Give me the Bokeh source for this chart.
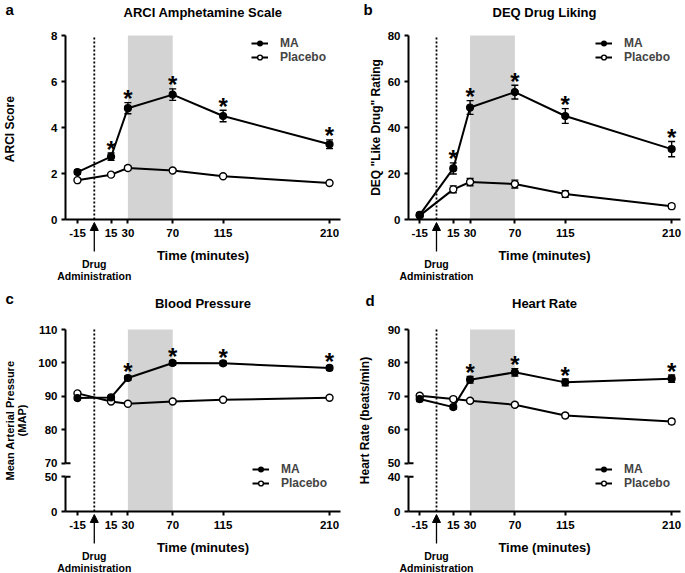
from bokeh.plotting import figure
from bokeh.models import (ColumnDataSource, Whisker, TeeHead, BoxAnnotation, Legend,
                          LegendItem, FixedTicker, Label, Arrow, NormalHead)
from bokeh.layouts import column, row
from bokeh.core.properties import value
from bokeh.embed import file_html
from bokeh.resources import INLINE

# ---------------- data ----------------
time_min = [-15, 15, 30, 70, 115, 210]
x_tick_labels = ["-15", "15", "30", "70", "115", "210"]
drug_time = 0
shade_start, shade_end = 30, 70

arci_ma = [2.06, 2.73, 4.84, 5.43, 4.50, 3.27]
arci_ma_err = [0.10, 0.16, 0.24, 0.25, 0.25, 0.19]
arci_pl = [1.71, 1.95, 2.24, 2.13, 1.88, 1.59]
arci_pl_err = [0.04, 0.05, 0.09, 0.05, 0.04, 0.04]
arci_sig = [False, True, True, True, True, True]
arci_yticks = [0, 2, 4, 6, 8]

deq_ma = [2.0, 22.2, 48.7, 55.4, 45.0, 30.6]
deq_ma_err = [1.0, 2.4, 3.0, 3.0, 3.2, 3.3]
deq_pl = [1.7, 13.1, 16.3, 15.4, 11.1, 5.8]
deq_pl_err = [0.5, 1.5, 1.6, 1.7, 1.4, 1.0]
deq_sig = [False, True, True, True, True, True]
deq_yticks = [0, 20, 40, 60, 80]

map_ma = [89.5, 89.7, 95.5, 100.0, 99.9, 98.5]
map_ma_err = [0.5, 0.5, 0.7, 0.7, 0.6, 0.6]
map_pl = [90.9, 88.5, 87.8, 88.5, 89.0, 89.6]
map_pl_err = [0.4, 0.4, 0.4, 0.4, 0.4, 0.4]
map_sig = [False, False, True, True, True, True]
map_yticks_upper = [70, 80, 90, 100, 110]
map_yticks_lower = [0, 50]

hr_ma = [69.2, 66.8, 75.0, 77.2, 74.2, 75.3]
hr_ma_err = [0.7, 0.6, 1.0, 1.1, 1.0, 1.1]
hr_pl = [70.2, 69.2, 68.7, 67.5, 64.3, 62.5]
hr_pl_err = [0.5, 0.6, 0.5, 0.5, 0.6, 0.7]
hr_sig = [False, False, True, True, True, True]
hr_yticks_upper = [50, 60, 70, 80, 90]
hr_yticks_lower = [0, 40]

FONT = "Liberation Sans"
BREAK_GAP = 4.0      # gap between the two axis segments (in upper-axis units)
LOWER_SPAN = 10.4    # height of the lower axis segment (in upper-axis units)


def build(letter, title, ylabel, ma, ma_err, pl, pl_err, sig, x_data,
          width, height, bl, br, bt, data_h, legend_xy, ylabel_standoff,
          ylabel_size, yticks=None, upper=None, lower=None,
          letter_dx=-60, letter_dy=26, title_dy=23, drug_dy=(44, 56.5)):
    data_w = width - bl - br             # width of the plotted (axis) region
    extra_b = height - bt - data_h       # pixels below the x axis
    if upper is None:
        y_lo, y_hi = yticks[0], yticks[-1]
        tick_vals = list(yticks)
        overrides = {v: str(v) for v in yticks}
    else:
        top_low = upper[0] - BREAK_GAP
        y_lo = top_low - LOWER_SPAN
        y_hi = upper[-1]
        lower_pos = [y_lo + (v - lower[0]) / (lower[-1] - lower[0]) * LOWER_SPAN for v in lower]
        tick_vals = lower_pos + list(upper)
        overrides = {pos: str(v) for pos, v in zip(lower_pos, lower)}
        overrides.update({v: str(v) for v in upper})
    x_lo, x_hi = x_data
    upp = (y_hi - y_lo) / data_h
    xpp = (x_hi - x_lo) / data_w
    y_range = (y_lo - extra_b * upp, y_hi + bt * upp)
    x_range = (x_lo - bl * xpp, x_hi + br * xpp)

    p = figure(width=width, height=height, x_range=x_range, y_range=y_range,
               output_backend="svg", toolbar_location=None, tools="",
               min_border_left=0, min_border_right=0, min_border_top=0,
               min_border_bottom=0)
    p.outline_line_color = None
    p.grid.visible = False

    # shaded window & drug line
    p.add_layout(BoxAnnotation(left=shade_start, right=shade_end, bottom=y_lo, top=y_hi,
                               fill_color="#d3d3d3", fill_alpha=1.0, line_color=None,
                               level="underlay"))
    p.segment(x0=[drug_time], x1=[drug_time], y0=[y_lo], y1=[y_hi], line_color="black",
              line_width=1.8, line_dash="2 2")

    # axes
    for ax in (p.xaxis[0], p.yaxis[0]):
        ax.axis_line_width = 2
        ax.axis_line_color = "black"
        ax.major_tick_line_width = 2
        ax.major_tick_out = 4
        ax.major_tick_in = 0
        ax.minor_tick_line_color = None
        ax.major_label_text_font = FONT
        ax.major_label_text_font_style = "bold"
        ax.major_label_text_font_size = "11.5px"
        ax.major_label_text_color = "black"
        ax.axis_label_text_font = FONT
        ax.axis_label_text_font_style = "bold"
        ax.axis_label_text_color = "black"
    p.xaxis.fixed_location = y_lo
    p.xaxis.bounds = (x_lo, x_hi)
    p.xaxis.ticker = FixedTicker(ticks=time_min)
    p.xaxis.major_label_overrides = {t: s for t, s in zip(time_min, x_tick_labels)}
    p.xaxis.axis_label = "Time (minutes)"
    p.xaxis.axis_label_text_font_size = "13px"
    p.xaxis.axis_label_standoff = 8
    p.xaxis.major_label_standoff = 5

    p.yaxis.fixed_location = x_lo
    p.yaxis.bounds = (y_lo, y_hi)
    p.yaxis.ticker = FixedTicker(ticks=tick_vals)
    p.yaxis.major_label_overrides = overrides
    p.yaxis.axis_label = ylabel
    p.yaxis.axis_label_text_font_size = ylabel_size
    p.yaxis.axis_label_text_line_height = 1.05
    p.yaxis.axis_label_standoff = ylabel_standoff
    p.yaxis.major_label_standoff = 4

    if upper is not None:
        p.yaxis.axis_line_color = None
        p.segment(x0=[x_lo, x_lo], x1=[x_lo, x_lo], y0=[upper[0], y_lo],
                  y1=[upper[-1], tick_vals[1]], line_width=2, line_color="black")
        p.segment(x0=[x_lo, x_lo], x1=[x_lo + 5 * xpp, x_lo + 5 * xpp],
                  y0=[upper[0], tick_vals[1]], y1=[upper[0], tick_vals[1]],
                  line_width=2, line_color="black")

    # data
    src_ma = ColumnDataSource(dict(x=time_min, y=ma,
                                   lo=[m - e for m, e in zip(ma, ma_err)],
                                   hi=[m + e for m, e in zip(ma, ma_err)]))
    src_pl = ColumnDataSource(dict(x=time_min, y=pl,
                                   lo=[m - e for m, e in zip(pl, pl_err)],
                                   hi=[m + e for m, e in zip(pl, pl_err)]))

    pl_line = p.line("x", "y", source=src_pl, line_width=2, line_color="black")
    ma_line = p.line("x", "y", source=src_ma, line_width=2, line_color="black")
    pl_sc = p.scatter("x", "y", source=src_pl, size=7, marker="circle",
                      fill_color="white", line_color="black", line_width=1.4)
    ma_sc = p.scatter("x", "y", source=src_ma, size=7, marker="circle",
                      fill_color="black", line_color="black", line_width=1.2)
    for src in (src_pl, src_ma):
        p.add_layout(Whisker(base="x", lower="lo", upper="hi", source=src,
                             line_width=1.4, line_color="black",
                             upper_head=TeeHead(size=7, line_width=1.4, line_color="black"),
                             lower_head=TeeHead(size=7, line_width=1.4, line_color="black")))

    star_src = ColumnDataSource(dict(
        x=[t for t, s in zip(time_min, sig) if s],
        y=[m + e for m, e, s in zip(ma, ma_err, sig) if s],
        t=["*" for s in sig if s]))
    p.text("x", "y", text="t", source=star_src, text_align="center",
           text_baseline="alphabetic", text_font=value(FONT), text_font_size="24px",
           text_font_style="bold", text_color="black", y_offset=-4)

    legend = Legend(items=[LegendItem(label="MA", renderers=[ma_line, ma_sc]),
                           LegendItem(label="Placebo", renderers=[pl_line, pl_sc])],
                    location=(legend_xy[0] + bl, legend_xy[1] + extra_b),
                    border_line_color=None, background_fill_alpha=0,
                    padding=0, margin=0, spacing=-2, glyph_width=17, glyph_height=12,
                    label_height=12, label_standoff=12, label_text_font=FONT,
                    label_text_font_style="bold", label_text_font_size="12px")
    p.add_layout(legend)

    # drug administration arrow + text (below the x axis)
    p.add_layout(Arrow(x_start=drug_time, x_end=drug_time, y_start=y_lo - 32 * upp,
                       y_end=y_lo - 3 * upp, line_width=1.3, line_color="black",
                       end=NormalHead(size=8, fill_color="black", line_color="black",
                                      line_width=1)))
    for txt, dy in zip(["Drug", "Administration"], drug_dy):
        p.add_layout(Label(x=drug_time, y=y_lo - dy * upp, text=txt,
                           text_align="center", text_baseline="middle", text_font=FONT,
                           text_font_size="10.5px", text_font_style="bold",
                           text_color="black"))

    # title & panel letter (above the axes region)
    p.add_layout(Label(x=(x_lo + x_hi) / 2, y=y_hi + title_dy * upp,
                       text=title, text_align="center", text_baseline="middle",
                       text_font=FONT, text_font_size="13px", text_font_style="bold",
                       text_color="black"))
    p.add_layout(Label(x=x_lo + letter_dx * xpp, y=y_hi + letter_dy * upp,
                       text=letter, text_align="left", text_baseline="middle",
                       text_font=FONT, text_font_size="15px", text_font_style="bold",
                       text_color="black"))
    return p


XL = (-25.7, 219.8)
XR = (-25.0, 217.9)

pa = build("a", "ARCI Amphetamine Scale", "ARCI  Score", arci_ma, arci_ma_err, arci_pl,
           arci_pl_err, arci_sig, XL, 346, 288, 65, 6, 35, 184, (186, 155), 31, "12px",
           yticks=arci_yticks, letter_dx=-60, letter_dy=26, title_dy=23)
pb = build("b", "DEQ Drug Liking", 'DEQ "Like Drug" Rating', deq_ma, deq_ma_err, deq_pl,
           deq_pl_err, deq_sig, XR, 339, 288, 62, 5, 35, 184, (187, 155), 2, "12px",
           yticks=deq_yticks, letter_dx=-45, letter_dy=26, title_dy=23)
pc = build("c", "Blood Pressure", "Mean Arterial Pressure\n(MAP)", map_ma, map_ma_err, map_pl,
           map_pl_err, map_sig, XL, 346, 285, 65, 6, 41, 182, (187, 21), 7, "11px",
           upper=map_yticks_upper, lower=map_yticks_lower,
           letter_dx=-60, letter_dy=31, title_dy=26)
pd_ = build("d", "Heart Rate", "Heart Rate (beats/min)", hr_ma, hr_ma_err, hr_pl,
            hr_pl_err, hr_sig, XR, 339, 285, 62, 5, 41, 182, (187, 21), 13, "12px",
            upper=hr_yticks_upper, lower=hr_yticks_lower,
            letter_dx=-43, letter_dy=29, title_dy=26)

layout = column(row(pa, pb), row(pc, pd_))
open("out.html", "w").write(file_html(layout, INLINE))
